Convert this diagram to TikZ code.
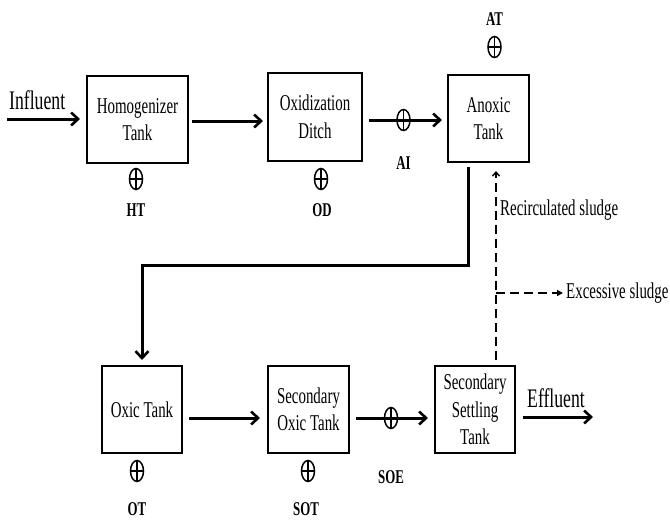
\documentclass[tikz,border=0pt]{standalone}
\usepackage{fontspec}
\setmainfont[FakeStretch=0.66]{Liberation Serif}
\usetikzlibrary{arrows.meta,shapes.geometric}
\begin{document}
\begin{tikzpicture}[x=1pt,y=-1pt,
  tank/.style={draw,line width=1.8pt,inner sep=0pt,align=center,minimum height=87pt,
    font=\fontsize{22.6}{27.5}\selectfont},
  flow/.style={line width=3pt,-{Straight Barb[length=7pt,width=13pt,line width=2.6pt]}},
  sensor/.style={ellipse,draw,line width=1.5pt,minimum width=13pt,minimum height=21pt,inner sep=0pt,
    path picture={\draw[line width=1.4pt] (path picture bounding box.north) -- (path picture bounding box.south)
      (path picture bounding box.west) -- (path picture bounding box.east);}},
  tag/.style={font=\fontsize{19.5}{22}\selectfont\bfseries,inner sep=0pt},
  big/.style={font=\fontsize{26.8}{30}\selectfont,inner sep=0pt},
  note/.style={font=\fontsize{22.6}{27}\selectfont,inner sep=0pt},
  sludge/.style={line width=1.6pt,dash pattern=on 9pt off 5pt},
]
\useasboundingbox (0,0) rectangle (670,523);
% top row
\node[tank,minimum width=101pt] (ht) at (137.5,119.5) {Homogenizer\\Tank};
\node[tank,minimum width=94pt,minimum height=88pt] (od) at (315,117) {Oxidization\\Ditch};
\node[tank,minimum width=81pt] (an) at (488.5,118.5) {Anoxic\\Tank};
% bottom row
\node[tank,minimum width=80pt] (ox) at (142,409.5) {Oxic Tank};
\node[tank,minimum width=81pt] (so) at (308.5,409.5) {Secondary\\Oxic Tank};
\node[tank,minimum width=80pt] (st) at (475,409.5) {Secondary\\Settling\\Tank};
% free ends
\coordinate (inS) at (7,119);
\coordinate (effE) at (593,417);
\coordinate (exE) at (563,293);
\coordinate (bendR) at (468,265);
\coordinate (bendL) at (142,265);
\coordinate (rec) at (496,171);
\coordinate (split) at (496,293);
\coordinate (stTop) at (496,360);
% main flows
\draw[flow] (inS) -- (80,119) coordinate (inE);
\node[big,anchor=south west] (influent) at (9,110) {Influent};
\draw[flow] (192,121) coordinate (a1) -- (263,121) coordinate (a2);
\draw[flow] (369,120) coordinate (b1) -- (442,120) coordinate (b2);
\draw[flow] (468,167) -- (bendR) -- (bendL) -- (142,360);
\draw[flow] (189,418) coordinate (c1) -- (260,418) coordinate (c2);
\draw[flow] (356,418) coordinate (d1) -- (428,418) coordinate (d2);
\draw[flow] (523,417) coordinate (e1) -- (effE);
\node[big,anchor=south west] (effluent) at (527,408) {Effluent};
% sludge lines
\draw[sludge,-{Straight Barb[length=4pt,width=7pt,line width=1.4pt]}] (stTop) -- (rec);
\draw[sludge,-{Triangle[length=6pt,width=6pt]}] (split) -- (exE);
\node[note,anchor=west] (recl) at (500,210) {Recirculated sludge};
\node[note,anchor=west] (exl) at (566,293) {Excessive sludge};
% sensors
\node[sensor] (sht) at (136,179) {};
\node[tag] (lht) at (136,210) {HT};
\node[sensor] (sod) at (321,179) {};
\node[tag] (lod) at (322,210) {OD};
\node[sensor] (sai) at (403.5,120) {};
\node[tag] (lai) at (403.5,163) {AI};
\node[sensor] (sat) at (494.5,47) {};
\node[tag] (lat) at (494.5,19) {AT};
\node[sensor] (sot) at (137,471) {};
\node[tag] (lot) at (137,509) {OT};
\node[sensor] (ssot) at (308,471) {};
\node[tag] (lsot) at (306,509) {SOT};
\node[sensor] (ssoe) at (391,418) {};
\node[tag] (lsoe) at (391,477) {SOE};
\end{tikzpicture}
\end{document}
